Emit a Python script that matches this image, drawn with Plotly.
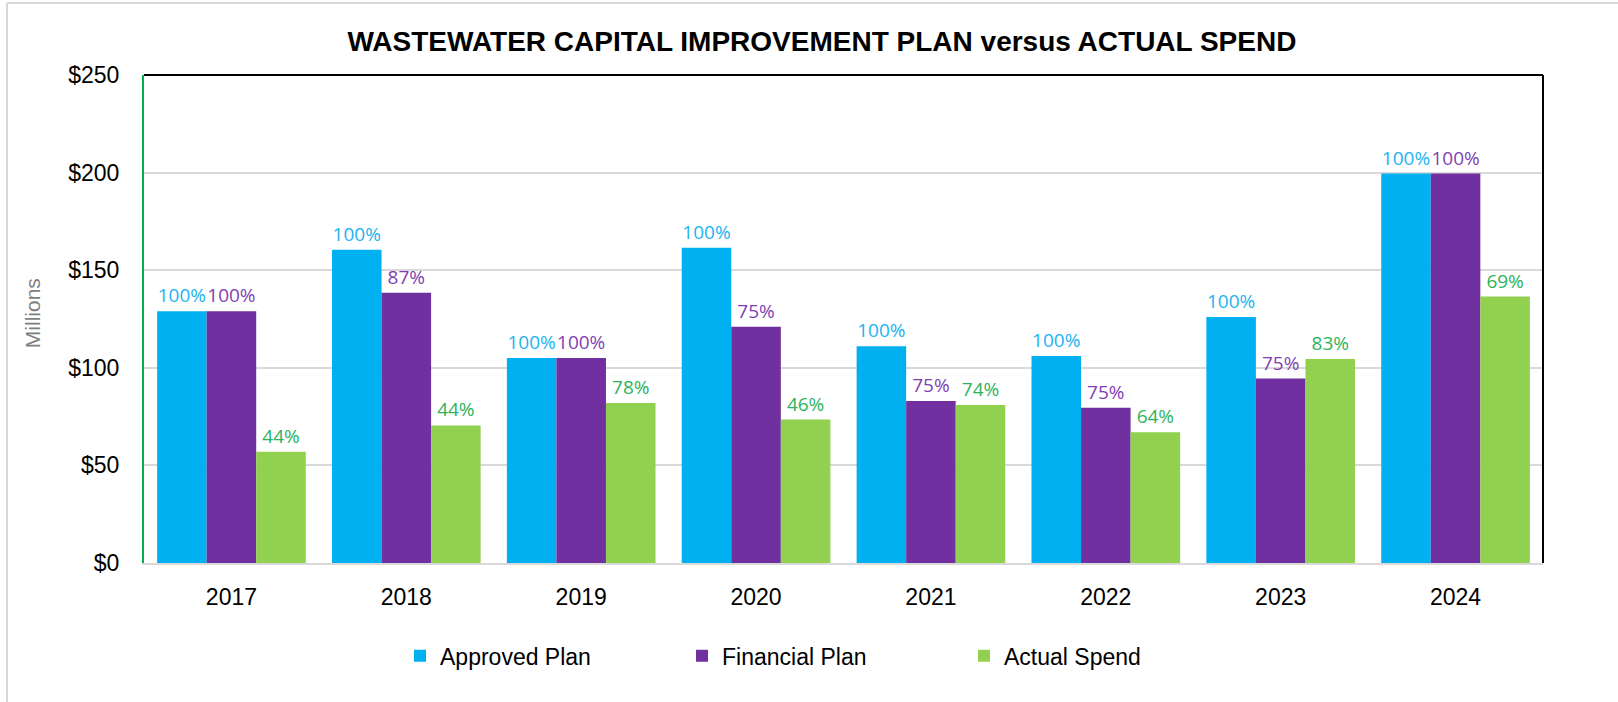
import plotly.graph_objects as go

years = ["2017", "2018", "2019", "2020", "2021", "2022", "2023", "2024"]
approved = [129, 160.5, 105, 161.5, 111, 106, 126, 199.5]
financial = [129, 138.5, 105, 121, 83, 79.5, 94.5, 199.5]
actual = [57, 70.5, 82, 73.5, 81, 67, 104.5, 136.5]
approved_pct = ["100%"] * 8
financial_pct = ["100%", "87%", "100%", "75%", "75%", "75%", "75%", "100%"]
actual_pct = ["44%", "44%", "78%", "46%", "74%", "64%", "83%", "69%"]
y_ticks = [0, 50, 100, 150, 200, 250]
y_ticktext = ["$0", "$50", "$100", "$150", "$200", "$250"]

NARROW = "Liberation Sans Narrow, Arial Narrow, Liberation Sans, Arial, sans-serif"
LABEL = "Open Sans, DejaVu Sans, sans-serif"

series = [
    ("Approved Plan", approved, approved_pct, "#00B0F0", "#1DB4F0"),
    ("Financial Plan", financial, financial_pct, "#7030A0", "#7F3FB3"),
    ("Actual Spend", actual, actual_pct, "#92D050", "#2DB35C"),
]

fig = go.Figure()
for name, vals, pct, col, tcol in series:
    fig.add_trace(go.Bar(
        x=years, y=vals, name=name, text=pct,
        textposition="outside", constraintext="none", cliponaxis=False,
        textfont=dict(family=LABEL, size=19, color=tcol),
        marker=dict(color=col, line=dict(width=0)),
        hoverinfo="skip",
    ))

fig.update_layout(
    width=1618, height=702,
    margin=dict(l=144, r=75, t=75, b=139),
    paper_bgcolor="white", plot_bgcolor="white",
    barmode="group", bargap=0.15, bargroupgap=0,
    title=dict(
        text="WASTEWATER CAPITAL IMPROVEMENT PLAN versus ACTUAL SPEND",
        x=0.508, xref="container", xanchor="center",
        y=1 - 41 / 702, yref="container", yanchor="middle",
        font=dict(family=NARROW, size=28, color="#000000", weight="bold"),
    ),
    showlegend=True,
    legend=dict(
        orientation="h", x=0.183, xanchor="left", y=-0.19, yanchor="middle",
        font=dict(family=NARROW, size=23, color="#000000"),
        entrywidth=237, entrywidthmode="pixels",
        bgcolor="rgba(0,0,0,0)", traceorder="normal",
    ),
    font=dict(family=NARROW, color="#000000"),
)

fig.update_xaxes(
    showgrid=False, showline=True, linecolor="#D9D9D9", linewidth=2,
    ticks="", tickfont=dict(family=NARROW, size=23, color="#000000"),
    ticklabelstandoff=12, fixedrange=True,
)
fig.update_yaxes(
    range=[0, 250], tickmode="array", tickvals=y_ticks, ticktext=y_ticktext,
    showgrid=True, gridcolor="#D9D9D9", gridwidth=2,
    showline=True, linecolor="#00B050", linewidth=2,
    zeroline=False, ticks="", ticklabelstandoff=18,
    tickfont=dict(family=NARROW, size=23, color="#000000"), fixedrange=True,
)

# plot frame top/right border
fig.add_shape(type="line", xref="paper", yref="paper", x0=0, x1=1, y0=1, y1=1,
              line=dict(color="#000000", width=2), layer="above")
fig.add_shape(type="line", xref="paper", yref="paper", x0=1, x1=1, y0=0, y1=1,
              line=dict(color="#000000", width=2), layer="above")
# outer chart border (left and top)
fig.add_shape(type="line", xref="paper", yref="paper",
              x0=(7 - 144) / 1399, x1=(7 - 144) / 1399, y0=(563 - 3) / 488, y1=-2,
              line=dict(color="#D9D9D9", width=2))
fig.add_shape(type="line", xref="paper", yref="paper",
              x0=(7 - 144) / 1399, x1=2, y0=(563 - 3) / 488, y1=(563 - 3) / 488,
              line=dict(color="#D9D9D9", width=2))

fig.add_annotation(
    text="Millions", xref="paper", yref="paper", x=(32 - 144) / 1399, y=0.512,
    xanchor="center", yanchor="middle", textangle=-90, showarrow=False,
    font=dict(family="Liberation Sans, Arial, sans-serif", size=21, color="#7F7F7F"),
)

fig.write_html("out.html", config={"displayModeBar": False},
               post_script="document.body.style.margin='0';document.body.style.overflow='hidden';")
